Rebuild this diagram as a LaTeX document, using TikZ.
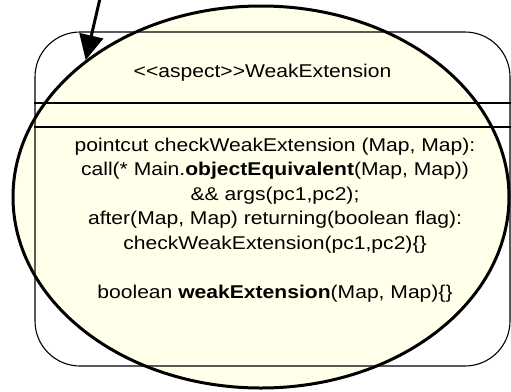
\documentclass[tikz,border=0pt]{standalone}
\usepackage{fontspec}
\setmainfont{Liberation Sans}
\usetikzlibrary{shapes.geometric,arrows.meta}
\definecolor{notefill}{RGB}{255,255,234}
\tikzset{
  highlight/.style={ellipse, draw, line width=3pt, fill=notefill, inner sep=0pt,
    minimum width=496pt, minimum height=382pt},
  classbox/.style={draw, line width=1.1pt, rounded corners=45pt, inner sep=0pt,
    minimum width=475pt, minimum height=334pt},
  divider/.style={line width=1.1pt},
  codeline/.style={anchor=base, inner sep=0pt, xscale=1.14, transform shape,
    font=\fontsize{18.5}{24.5}\selectfont},
  pointer/.style={line width=3pt, -{Triangle[length=25pt,width=24pt]}}
}
\begin{document}
\begin{tikzpicture}[x=1pt,y=-1pt]
  \useasboundingbox (0,0) rectangle (511,391);

  % highlighted aspect
  \node[highlight] (ell) at (261,197) {};

  % class box with its compartments
  \node[classbox] (cls) at (272.5,199) {};
  \draw[divider] (cls.west |- 0,103) -- (cls.east |- 0,103);
  \draw[divider] (cls.west |- 0,127) -- (cls.east |- 0,127);

  % class name (braces keep << and >> from turning into guillemets)
  \node[codeline] (name) at (262.5,77) {<{}<aspect>{}>WeakExtension};

  % aspect body
  \node[codeline] (c1) at (275,151)   {pointcut checkWeakExtension (Map, Map):};
  \node[codeline] (c2) at (275,175.5) {call(* Main.\textbf{objectEquivalent}(Map, Map))};
  \node[codeline] (c3) at (275,200)   {\&\& args(pc1,pc2);};
  \node[codeline] (c4) at (275,224.5) {after(Map, Map) returning(boolean flag):};
  \node[codeline] (c5) at (275,249)   {checkWeakExtension(pc1,pc2)\{\}};
  \node[codeline] (c6) at (275,298)   {boolean \textbf{weakExtension}(Map, Map)\{\}};

  % pointer arrow
  \coordinate (src) at (101.5,-8);
  \draw[pointer] (src) -- (ell.142.4);
\end{tikzpicture}
\end{document}
